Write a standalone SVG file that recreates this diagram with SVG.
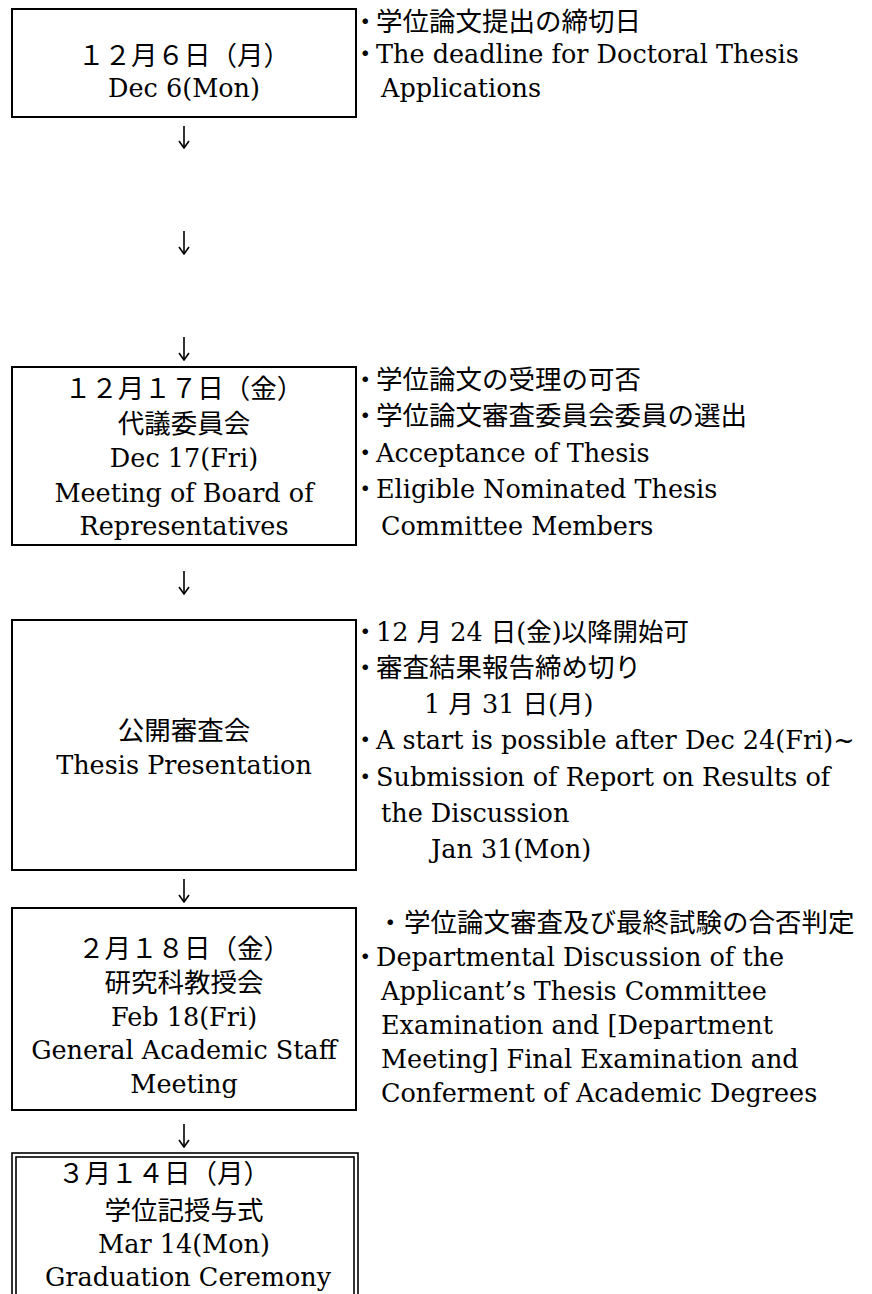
<svg xmlns="http://www.w3.org/2000/svg" width="872" height="1294" viewBox="0 0 872 1294">
<style>
.box{fill:#fff;stroke:#000;stroke-width:2}
.box2{fill:none;stroke:#000;stroke-width:1.6}
.t{font-family:"DejaVu Serif","Noto Sans CJK JP",serif;font-size:25.5px;fill:#000}
.j{font-family:"Noto Sans CJK JP",sans-serif;font-size:26.5px;fill:#000}
.c{text-anchor:middle}
.con{stroke:#000;stroke-width:1.6;fill:none}
</style>
<defs>
<marker id="ah" viewBox="0 0 10 12" refX="9" refY="6" markerWidth="10" markerHeight="12" markerUnits="userSpaceOnUse" orient="auto">
<path d="M2,1 L9,6 L2,11" fill="none" stroke="#000" stroke-width="1.6"/>
</marker>
</defs>
<rect width="872" height="1294" fill="#fff"/>

<g id="connectors">
<path class="con" d="M184,126 V148" marker-end="url(#ah)"/>
<path class="con" d="M184,231 V254" marker-end="url(#ah)"/>
<path class="con" d="M184,337 V360" marker-end="url(#ah)"/>
<path class="con" d="M184,571 V594" marker-end="url(#ah)"/>
<path class="con" d="M184,879 V902" marker-end="url(#ah)"/>
<path class="con" d="M184,1124 V1147" marker-end="url(#ah)"/>
</g>

<g id="node1">
<rect class="box" x="12" y="9" width="344" height="108"/>
<text class="j c" x="184" y="65">１２月６日（月）</text>
<text class="t c" x="184" y="97">Dec 6(Mon)</text>
</g>
<g id="note1">
<text class="j"><tspan x="352" y="31">・</tspan><tspan x="376">学位論文提出の締切日</tspan></text>
<text class="t"><tspan class="j" x="352" y="63">・</tspan><tspan x="376">The deadline for Doctoral Thesis</tspan></text>
<text class="t" x="381" y="97">Applications</text>
</g>

<g id="node2">
<rect class="box" x="12" y="367" width="344" height="178"/>
<text class="j c" x="184" y="398">１２月１７日（金）</text>
<text class="j c" x="184" y="433">代議委員会</text>
<text class="t c" x="184" y="467">Dec 17(Fri)</text>
<text class="t c" x="184" y="502">Meeting of Board of</text>
<text class="t c" x="184" y="535">Representatives</text>
</g>
<g id="note2">
<text class="j"><tspan x="352" y="389">・</tspan><tspan x="376">学位論文の受理の可否</tspan></text>
<text class="j"><tspan x="352" y="425">・</tspan><tspan x="376">学位論文審査委員会委員の選出</tspan></text>
<text class="t"><tspan class="j" x="352" y="462">・</tspan><tspan x="376">Acceptance of Thesis</tspan></text>
<text class="t"><tspan class="j" x="352" y="498">・</tspan><tspan x="376">Eligible Nominated Thesis</tspan></text>
<text class="t" x="381" y="535">Committee Members</text>
</g>

<g id="node3">
<rect class="box" x="12" y="620" width="344" height="250"/>
<text class="j c" x="184" y="740">公開審査会</text>
<text class="t c" x="184" y="774">Thesis Presentation</text>
</g>
<g id="note3">
<text class="t"><tspan class="j" x="352" y="641">・</tspan><tspan x="376">12 月 24 日(金)以降開始可</tspan></text>
<text class="j"><tspan x="352" y="677">・</tspan><tspan x="376">審査結果報告締め切り</tspan></text>
<text class="t" x="424" y="713">1 月 31 日(月)</text>
<text class="t"><tspan class="j" x="352" y="749">・</tspan><tspan x="376">A start is possible after Dec 24(Fri)~</tspan></text>
<text class="t"><tspan class="j" x="352" y="786">・</tspan><tspan x="376">Submission of Report on Results of</tspan></text>
<text class="t" x="381" y="822">the Discussion</text>
<text class="t" x="431" y="858">Jan 31(Mon)</text>
</g>

<g id="node4">
<rect class="box" x="12" y="908" width="344" height="202"/>
<text class="j c" x="184" y="958">２月１８日（金）</text>
<text class="j c" x="184" y="992">研究科教授会</text>
<text class="t c" x="184" y="1026">Feb 18(Fri)</text>
<text class="t c" x="184" y="1059">General Academic Staff</text>
<text class="t c" x="184" y="1093">Meeting</text>
</g>
<g id="note4">
<text class="j"><tspan x="377" y="932">・</tspan><tspan x="404">学位論文審査及び最終試験の合否判定</tspan></text>
<text class="t"><tspan class="j" x="352" y="966">・</tspan><tspan x="376">Departmental Discussion of the</tspan></text>
<text class="t" x="381" y="1000">Applicant’s Thesis Committee</text>
<text class="t" x="381" y="1034">Examination and [Department</text>
<text class="t" x="381" y="1068">Meeting] Final Examination and</text>
<text class="t" x="381" y="1102">Conferment of Academic Degrees</text>
</g>

<g id="node5">
<rect class="box2" x="12" y="1153" width="346" height="180" stroke-width="2"/>
<rect class="box2" x="16" y="1157" width="338" height="172"/>
<text class="j" x="58" y="1183">３月１４日（月）</text>
<text class="j c" x="184" y="1220">学位記授与式</text>
<text class="t c" x="184" y="1253">Mar 14(Mon)</text>
<text class="t c" x="188" y="1286">Graduation Ceremony</text>
</g>
</svg>
